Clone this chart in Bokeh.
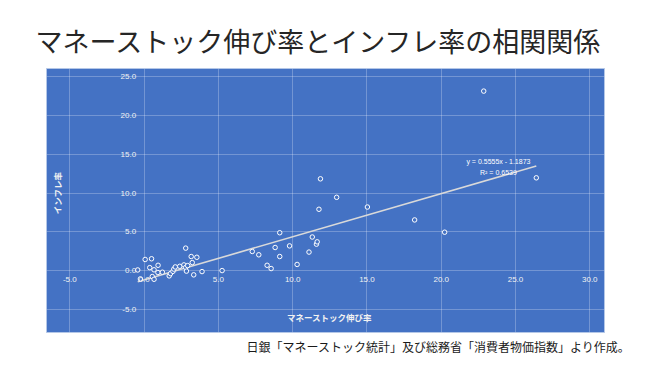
from bokeh.plotting import figure
from bokeh.models import Range1d, FixedTicker, NumeralTickFormatter, Title, ColumnDataSource
from bokeh.embed import file_html
from bokeh.resources import INLINE
from bokeh.core.properties import value

# ---- text ----
title_text = "マネーストック伸び率とインフレ率の相関関係"
x_label = "マネーストック伸び率"
y_label = "インフレ率"
source_note = "日銀「マネーストック統計」及び総務省「消費者物価指数」より作成。"

# ---- data ----
money_growth = [
    -0.43, -0.25, 0.07, 0.50, 0.38, 0.67, 0.94, 0.93, 0.55, 0.67,
    1.23, 1.69, 1.78, 1.94, 2.00, 2.10, 2.40, 2.68, 2.80, 2.80,
    2.93, 2.85, 3.17, 3.24, 3.55, 3.34, 3.90, 5.25,
    7.28, 7.72, 8.28, 8.55, 8.82, 9.13, 9.13, 9.79, 10.30, 11.10,
    11.32, 11.60, 11.65, 11.77, 11.87, 12.96, 15.03,
    18.21, 20.23, 22.86, 26.40,
]
inflation = [
    0.10, -1.05, 1.45, 1.54, 0.40, 0.12, 0.70, -0.23, -0.75, -1.10,
    -0.19, -0.66, -0.36, -0.08, 0.21, 0.49, 0.57, 0.75, 2.91, 0.42,
    0.66, -0.05, 1.83, 1.05, 1.73, -0.53, -0.11, 0.02,
    2.48, 2.05, 0.70, 0.28, 2.99, 4.89, 1.83, 3.20, 0.81, 2.40,
    4.34, 3.42, 3.72, 7.91, 11.83, 9.45, 8.20,
    6.54, 4.96, 23.12, 11.96,
]

slope = 0.5555
intercept = -1.1873
r_squared = 0.6539

x_ticks = [-5, 0, 5, 10, 15, 20, 25, 30]
y_ticks = [-5, 0, 5, 10, 15, 20, 25]

# ---- colours ----
chart_blue = "#4472C4"
light = "#D9D9D9"

p = figure(
    width=642, height=358,
    x_range=Range1d(-6.57, 30.99), y_range=Range1d(-7.95, 26.03),
    output_backend="svg", toolbar_location=None,
    min_border_left=46, min_border_right=38, min_border_top=68, min_border_bottom=25,
)
p.background_fill_color = chart_blue
p.border_fill_color = "white"
p.outline_line_color = "#B4C7E7"
p.outline_line_width = 1

# title
p.title.text = title_text
p.title.align = "left"
p.title.offset = -11
p.title.text_font = "Noto Sans CJK JP"
p.title.text_font_style = "normal"
p.title.text_font_size = "27px"
p.title.text_color = "#262626"
p.title.standoff = 18

# footnote
p.add_layout(Title(text=source_note, align="right", offset=-26, standoff=7,
                   text_font="Noto Sans CJK JP", text_font_style="normal",
                   text_font_size="12px", text_color="#1a1a1a"), "below")

# axes crossing at zero
for ax, ticks, bounds in ((p.xaxis[0], x_ticks, (x_ticks[0], x_ticks[-1])),
                          (p.yaxis[0], y_ticks, (y_ticks[0], y_ticks[-1]))):
    ax.fixed_location = 0
    ax.bounds = bounds
    ax.ticker = FixedTicker(ticks=ticks)
    ax.formatter = NumeralTickFormatter(format="0.0")
    ax.axis_line_color = None
    ax.major_tick_line_color = None
    ax.minor_tick_line_color = None
    ax.major_label_text_font = "Liberation Sans"
    ax.major_label_text_font_size = "8px"
    ax.major_label_text_color = "#F2F2F2"
    ax.axis_label_text_font = "Noto Sans CJK JP"
    ax.axis_label_text_font_style = "bold"
    ax.axis_label_text_font_size = "8.5px"
    ax.axis_label_text_color = "#F2F2F2"

p.xaxis.axis_label = x_label
p.xaxis.major_label_standoff = 0
p.xaxis.axis_label_standoff = 26
p.yaxis.axis_label = y_label
p.yaxis.major_label_standoff = 2
p.yaxis.axis_label_standoff = 55

p.grid.grid_line_color = "white"
p.grid.grid_line_alpha = 0.25
p.grid.grid_line_width = 1

# trend line over the data's x extent
x0, x1 = min(money_growth), max(money_growth)
trend = ColumnDataSource(dict(x=[x0, x1], y=[slope * x0 + intercept, slope * x1 + intercept]))
p.line("x", "y", source=trend, line_color=light, line_width=1.6)

# points
pts = ColumnDataSource(dict(x=money_growth, y=inflation))
p.scatter("x", "y", source=pts, marker="circle", size=4.5,
          fill_color=chart_blue, line_color="white", line_width=1)

# trend equation label
eq_src = ColumnDataSource(dict(
    x=[23.85, 23.85], y=[14.1, 12.7],
    t=[f"y = {slope}x - {abs(intercept)}", f"R² = {r_squared}"],
))
p.text("x", "y", text="t", source=eq_src, text_align="center", text_baseline="middle",
       text_font=value("Liberation Sans"), text_font_size="7px", text_color="white")

open("out.html", "w").write(file_html(p, INLINE))
